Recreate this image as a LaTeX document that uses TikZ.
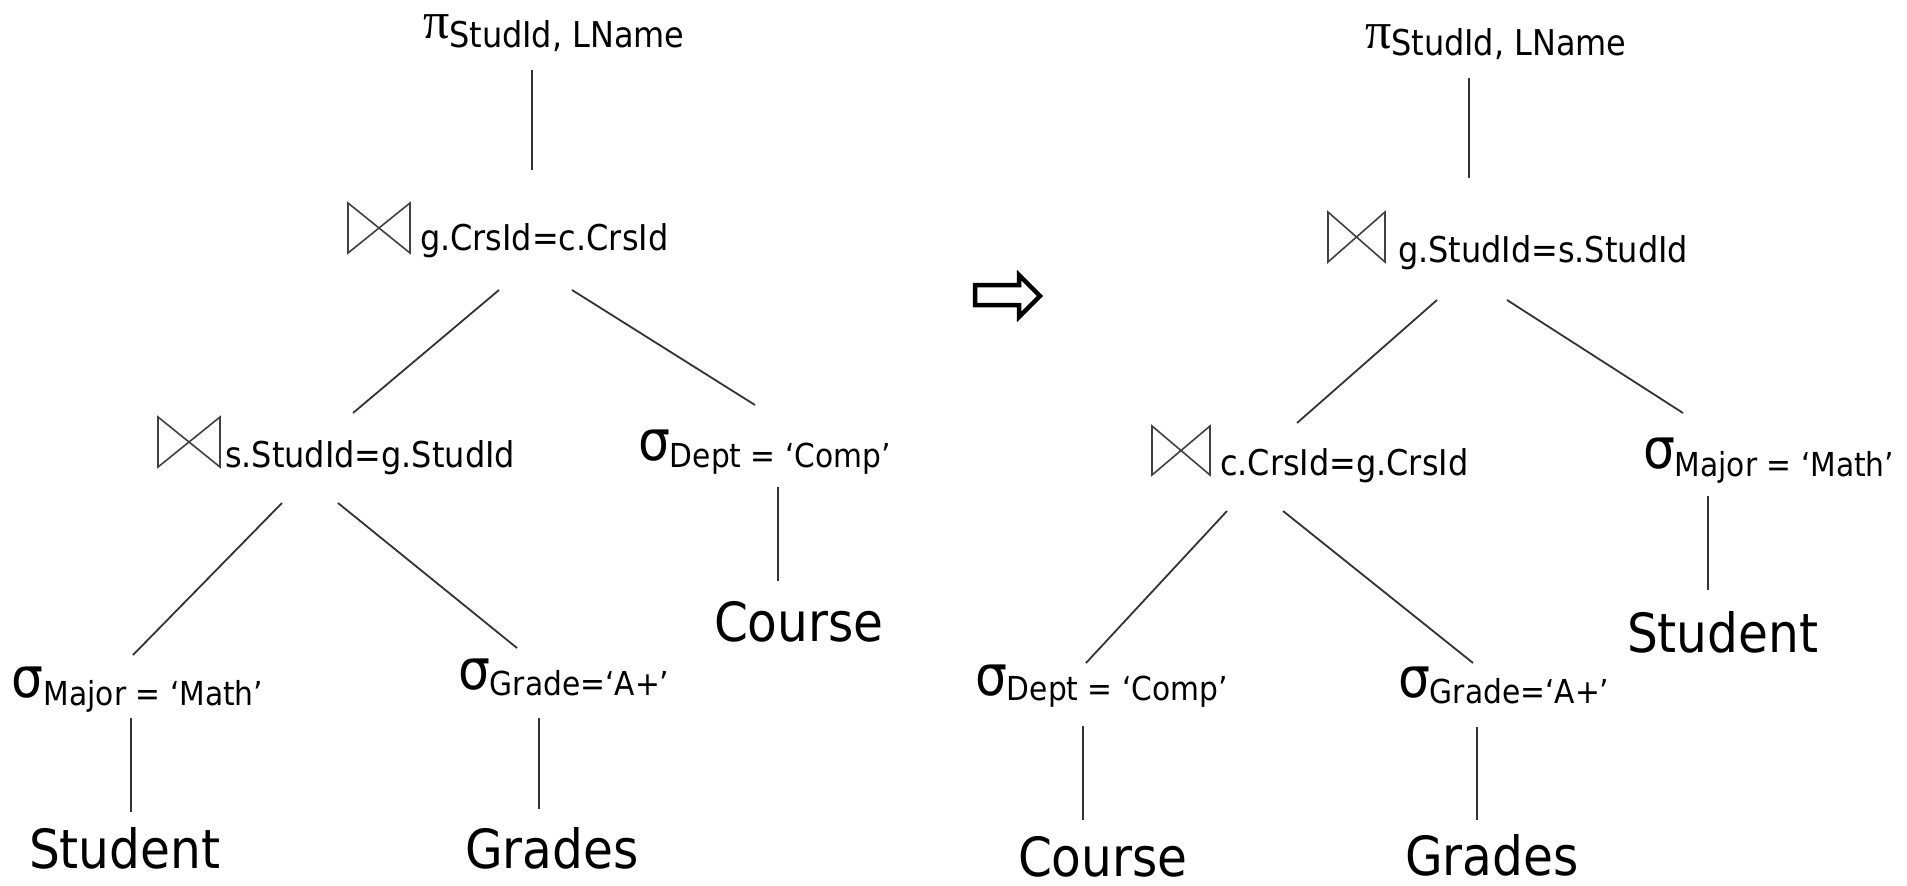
\documentclass[tikz,border=0pt]{standalone}
\usepackage{fontspec}
\setmainfont{DejaVu Sans Condensed}
\newfontfamily\pifont{Liberation Serif}
\newcommand\Sgm[2]{{\fontsize{56}{56}\selectfont σ}\raisebox{-#1pt}{\fontsize{33}{33}\selectfont #2}}
\newcommand\Prj[2]{{\pifont\fontsize{52}{52}\selectfont π}\raisebox{-#1pt}{\fontsize{35.5}{35.5}\selectfont #2}}
\newcommand\Jnl[1]{{\fontsize{35.5}{35.5}\selectfont #1}}
\newcommand\Rln[1]{{\fontsize{54}{54}\selectfont #1}}
\begin{document}
\begin{tikzpicture}[x=1pt,y=-1pt,
  lbl/.style={anchor=base west,inner sep=0pt,outer sep=0pt},
  edge/.style={draw=black!80,line width=1.8pt},
  btie/.style={draw=black!75,line width=1.6pt,line join=miter}]
\useasboundingbox (0,0) rectangle (1907,886);

% ---------- left tree ----------
\node[lbl] (pL)  at (423,38)  {\Prj{9}{StudId, LName}};
\node[lbl] (jL1) at (420,250) {\Jnl{g.CrsId=c.CrsId}};
\node[lbl] (jL2) at (225,467) {\Jnl{s.StudId=g.StudId}};
\node[lbl] (sDL) at (638,460) {\Sgm{7}{Dept = ‘Comp’}};
\node[lbl] (cL)  at (714,641) {\Rln{Course}};
\node[lbl] (sML) at (12,697)  {\Sgm{8}{Major = ‘Math’}};
\node[lbl] (stL) at (29,868)  {\Rln{Student}};
\node[lbl] (sGL) at (458,689) {\Sgm{6}{Grade=‘A+’}};
\node[lbl] (gL)  at (465,868) {\Rln{Grades}};

\draw[btie] ([shift={(-72,-47)}]jL1.base west) -- ([shift={(-72,3)}]jL1.base west)
  -- ([shift={(-10,-47)}]jL1.base west) -- ([shift={(-10,3)}]jL1.base west) -- cycle;
\draw[btie] ([shift={(-67,-50)}]jL2.base west) -- ([shift={(-67,0)}]jL2.base west)
  -- ([shift={(-5,-50)}]jL2.base west) -- ([shift={(-5,0)}]jL2.base west) -- cycle;

\draw[edge] ([shift={(109,32)}]pL.base west) -- ([shift={(112,-80)}]jL1.base west);
\draw[edge] ([shift={(79,40)}]jL1.base west) -- ([shift={(128,-54)}]jL2.base west);
\draw[edge] ([shift={(152,40)}]jL1.base west) -- ([shift={(117,-55)}]sDL.base west);
\draw[edge] ([shift={(140,27)}]sDL.base west) -- ([shift={(64,-60)}]cL.base west);
\draw[edge] ([shift={(57,36)}]jL2.base west) -- ([shift={(121,-42)}]sML.base west);
\draw[edge] ([shift={(113,36)}]jL2.base west) -- ([shift={(59,-41)}]sGL.base west);
\draw[edge] ([shift={(119,21)}]sML.base west) -- ([shift={(102,-56)}]stL.base west);
\draw[edge] ([shift={(81,29)}]sGL.base west) -- ([shift={(74,-59)}]gL.base west);

% ---------- arrow ----------
\draw[line width=4.5pt,line join=miter] (975,285) -- (1019,285) -- (1019,275) -- (1040,296)
  -- (1019,317) -- (1019,305) -- (975,305) -- cycle;

% ---------- right tree ----------
\node[lbl] (pR)  at (1365,48)  {\Prj{7}{StudId, LName}};
\node[lbl] (jR1) at (1398,262) {\Jnl{g.StudId=s.StudId}};
\node[lbl] (jR2) at (1220,475) {\Jnl{c.CrsId=g.CrsId}};
\node[lbl] (sMR) at (1643,468) {\Sgm{8}{Major = ‘Math’}};
\node[lbl] (stR) at (1627,652) {\Rln{Student}};
\node[lbl] (sDR) at (975,695)  {\Sgm{5}{Dept = ‘Comp’}};
\node[lbl] (cR)  at (1018,876) {\Rln{Course}};
\node[lbl] (sGR) at (1398,697) {\Sgm{6}{Grade=‘A+’}};
\node[lbl] (gR)  at (1405,875) {\Rln{Grades}};

\draw[btie] ([shift={(-70,-50)}]jR1.base west) -- ([shift={(-70,0)}]jR1.base west)
  -- ([shift={(-13,-50)}]jR1.base west) -- ([shift={(-13,0)}]jR1.base west) -- cycle;
\draw[btie] ([shift={(-68,-49)}]jR2.base west) -- ([shift={(-68,0)}]jR2.base west)
  -- ([shift={(-10,-49)}]jR2.base west) -- ([shift={(-10,0)}]jR2.base west) -- cycle;

\draw[edge] ([shift={(104,30)}]pR.base west) -- ([shift={(71,-84)}]jR1.base west);
\draw[edge] ([shift={(39,38)}]jR1.base west) -- ([shift={(77,-52)}]jR2.base west);
\draw[edge] ([shift={(109,38)}]jR1.base west) -- ([shift={(40,-55)}]sMR.base west);
\draw[edge] ([shift={(65,28)}]sMR.base west) -- ([shift={(81,-62)}]stR.base west);
\draw[edge] ([shift={(7,36)}]jR2.base west) -- ([shift={(111,-32)}]sDR.base west);
\draw[edge] ([shift={(63,36)}]jR2.base west) -- ([shift={(75,-34)}]sGR.base west);
\draw[edge] ([shift={(108,31)}]sDR.base west) -- ([shift={(65,-56)}]cR.base west);
\draw[edge] ([shift={(79,30)}]sGR.base west) -- ([shift={(72,-55)}]gR.base west);
\end{tikzpicture}
\end{document}
